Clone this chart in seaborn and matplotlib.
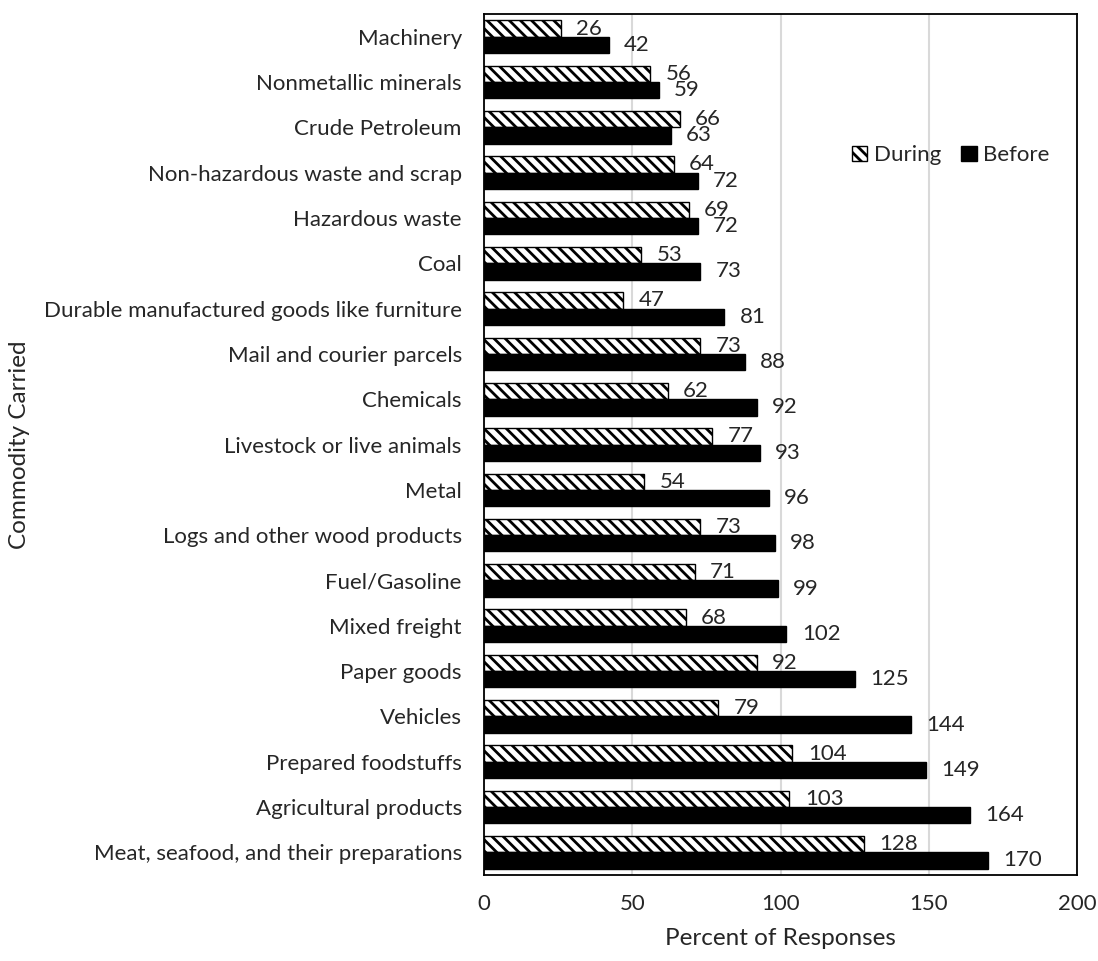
import matplotlib
matplotlib.use("Agg")
import matplotlib.pyplot as plt
import seaborn as sns
import pandas as pd
from matplotlib.ticker import FixedLocator
from matplotlib.patches import Patch

categories = ["Machinery", "Nonmetallic minerals", "Crude Petroleum",
              "Non-hazardous waste and scrap", "Hazardous waste", "Coal",
              "Durable manufactured goods like furniture", "Mail and courier parcels",
              "Chemicals", "Livestock or live animals", "Metal",
              "Logs and other wood products", "Fuel/Gasoline", "Mixed freight",
              "Paper goods", "Vehicles", "Prepared foodstuffs",
              "Agricultural products", "Meat, seafood, and their preparations"]
during = [26, 56, 66, 64, 69, 53, 47, 73, 62, 77, 54, 73, 71, 68, 92, 79, 104, 103, 128]
before = [42, 59, 63, 72, 72, 73, 81, 88, 92, 93, 96, 98, 99, 102, 125, 144, 149, 164, 170]
series = ["During", "Before"]
x_ticks = [0, 50, 100, 150, 200]

sns.set_theme(style="white")
plt.rcParams['font.family'] = ['Lato', 'DejaVu Sans']
plt.rcParams['hatch.linewidth'] = 2.0

FS = 16

df = pd.DataFrame({
    "Commodity": categories * 2,
    "Value": during + before,
    "Period": ["During"] * len(categories) + ["Before"] * len(categories),
})

fig = plt.figure(figsize=(10.98, 9.61), dpi=100)
ax = fig.add_axes([0.4408, 0.0895, 0.5402, 0.8959])

sns.barplot(data=df, y="Commodity", x="Value", hue="Period", hue_order=series,
            order=categories, orient="h", palette={"During": "white", "Before": "black"},
            width=0.72, gap=0, saturation=1, ax=ax, legend=False, errorbar=None)

for i, cont in enumerate(ax.containers):
    for bar in cont:
        if series[i] == "During":
            bar.set_facecolor("white")
            bar.set_hatch("\\\\\\")
            bar.set_edgecolor("black")
            bar.set_linewidth(1.0)
        else:
            bar.set_facecolor("black")
            bar.set_edgecolor("black")
    ax.bar_label(cont, labels=[str(int(v)) for v in cont.datavalues],
                 padding=11, fontsize=FS)

ax.set_xlim(0, 200)
ax.set_xticks(x_ticks)
ax.set_xticklabels([str(t) for t in x_ticks], fontsize=FS)
ax.set_ylim(len(categories) - 0.5, -0.5)
ax.grid(axis="x", color="#d9d9d9", linewidth=1.5)
ax.set_axisbelow(True)
ax.tick_params(axis="x", length=0, pad=14)
ax.tick_params(axis="y", which="major", length=0, pad=16, labelsize=FS)
ax.yaxis.set_minor_locator(FixedLocator([i + 0.5 for i in range(-1, len(categories))]))
ax.tick_params(axis="y", which="minor", direction="in", length=5, width=1.2, color="black")
for s in ax.spines.values():
    s.set_color("black")
    s.set_linewidth(1.3)
    s.set_visible(True)

ax.set_xlabel("Percent of Responses", fontsize=17.5, labelpad=10)
ax.set_ylabel("Commodity Carried", fontsize=17.5, labelpad=10)

handles = [Patch(facecolor="white", edgecolor="black", hatch="\\\\\\", label="During"),
           Patch(facecolor="black", edgecolor="black", label="Before")]
ax.legend(handles=handles, loc="center left", bbox_to_anchor=(0.62, 0.836), ncol=2,
          frameon=False, fontsize=FS, handlelength=0.7, handleheight=0.7,
          handletextpad=0.3, columnspacing=0.9, borderaxespad=0, borderpad=0)

fig.savefig("out.png", dpi=100)
